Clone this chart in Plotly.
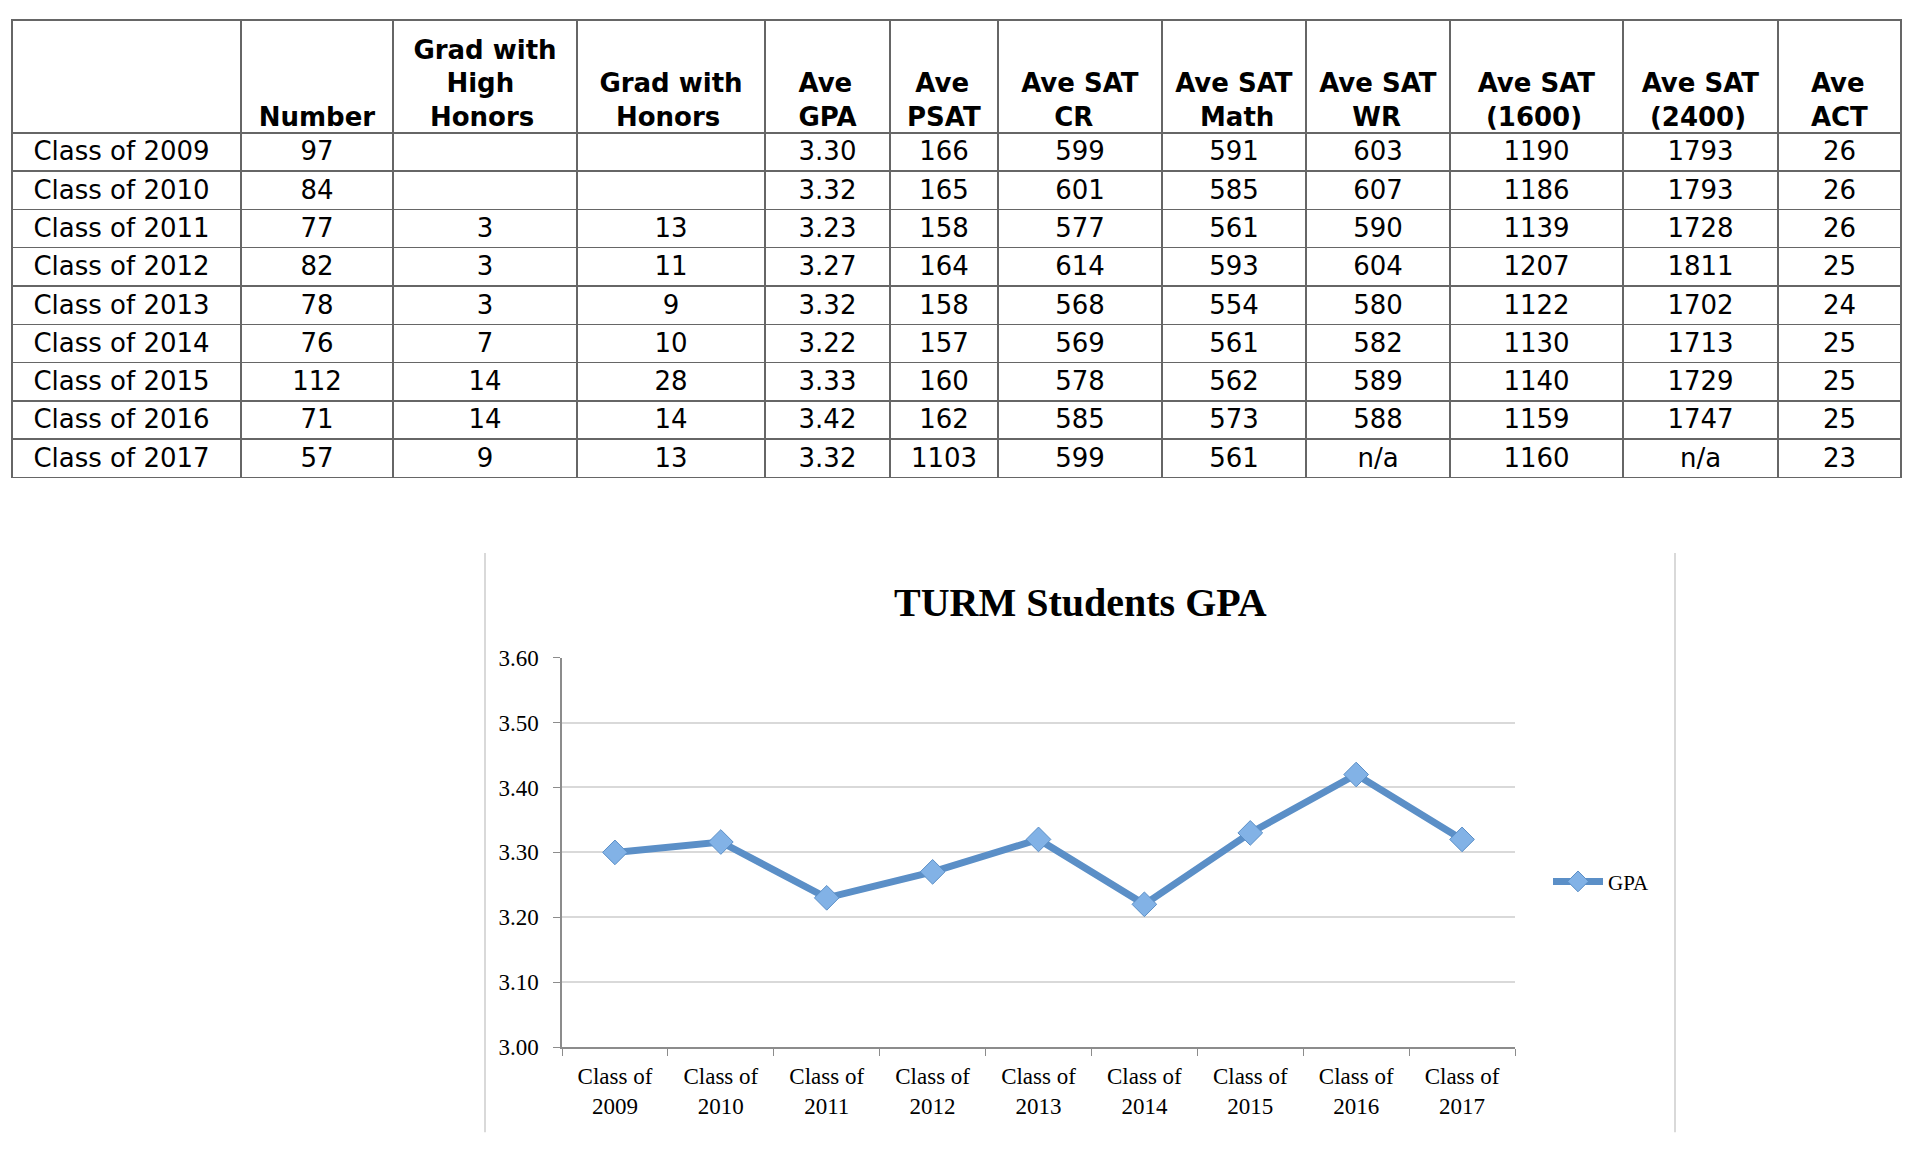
import plotly.graph_objects as go

# table data
classes = ["Class of 2009", "Class of 2010", "Class of 2011", "Class of 2012", "Class of 2013",
           "Class of 2014", "Class of 2015", "Class of 2016", "Class of 2017"]
number = ["97", "84", "77", "82", "78", "76", "112", "71", "57"]
high_honors = ["", "", "3", "3", "3", "7", "14", "14", "9"]
honors = ["", "", "13", "11", "9", "10", "28", "14", "13"]
ave_gpa = ["3.30", "3.32", "3.23", "3.27", "3.32", "3.22", "3.33", "3.42", "3.32"]
ave_psat = ["166", "165", "158", "164", "158", "157", "160", "162", "1103"]
sat_cr = ["599", "601", "577", "614", "568", "569", "578", "585", "599"]
sat_math = ["591", "585", "561", "593", "554", "561", "562", "573", "561"]
sat_wr = ["603", "607", "590", "604", "580", "582", "589", "588", "n/a"]
sat_1600 = ["1190", "1186", "1139", "1207", "1122", "1130", "1140", "1159", "1160"]
sat_2400 = ["1793", "1793", "1728", "1811", "1702", "1713", "1729", "1747", "n/a"]
ave_act = ["26", "26", "26", "25", "24", "25", "25", "25", "23"]

# header lines, one list per column
headers = [[], ["Number"], ["Grad with", "High", "Honors"], ["Grad with", "Honors"],
           ["Ave", "GPA"], ["Ave", "PSAT"], ["Ave SAT", "CR"], ["Ave SAT", "Math"],
           ["Ave SAT", "WR"], ["Ave SAT", "(1600)"], ["Ave SAT", "(2400)"], ["Ave", "ACT"]]

# chart data (as plotted)
chart_labels = ["Class of<br>2009", "Class of<br>2010", "Class of<br>2011", "Class of<br>2012",
                "Class of<br>2013", "Class of<br>2014", "Class of<br>2015", "Class of<br>2016",
                "Class of<br>2017"]
chart_gpa = [3.30, 3.316, 3.23, 3.27, 3.32, 3.22, 3.33, 3.42, 3.32]

W, H = 1916, 1154


def px(x):
    return x / W


def py(y):
    return 1 - y / H


# rough DejaVu Sans Bold advance widths (em), used to centre header lines
BOLD_W = {" ": .348, "A": .774, "C": .734, "G": .821, "H": .837, "M": .995, "N": .837,
          "P": .733, "R": .770, "S": .720, "T": .682, "W": 1.103, "a": .675, "b": .716,
          "d": .716, "e": .678, "g": .716, "h": .712, "i": .343, "m": 1.042, "n": .712,
          "o": .687, "r": .493, "s": .595, "t": .478, "u": .712, "v": .652, "w": .924,
          "(": .457, ")": .457}
NBSP = "\u00a0"


def text_w(s):
    return sum(BOLD_W.get(c, .696) for c in s)


def header_cell(lines, total=3):
    if not lines:
        return ""
    widest = max(text_w(l) for l in lines)
    out = [NBSP] * (total - len(lines))
    for l in lines:
        pad = int(round((widest - text_w(l)) / 2 / BOLD_W[" "]))
        out.append(NBSP * pad + "<b>" + l + "</b>")
    return "<br>".join(out)


header_vals = [header_cell(h) for h in headers]
first_col = [NBSP + "\u2009" + c for c in classes]
columns = [first_col, number, high_honors, honors, ave_gpa, ave_psat, sat_cr, sat_math,
           sat_wr, sat_1600, sat_2400, ave_act]
col_widths = [229, 152, 184, 188, 125, 108, 164, 144, 144, 173, 155, 123]

serif = "Liberation Serif"
sans = "DejaVu Sans"
grid_col = "#666666"
clear = "rgba(0,0,0,0)"
table_x = [px(12), px(1901)]

fig = go.Figure()

# the grid with the body text; header boxes left empty
fig.add_trace(go.Table(
    domain=dict(x=table_x, y=[0.45, py(8)]),
    columnwidth=col_widths,
    header=dict(values=[""] * len(headers), height=113,
                fill_color="white", line=dict(color=grid_col, width=1.5),
                font=dict(family=sans, size=26, color="black")),
    cells=dict(values=columns, height=38.3,
               align=["left"] + ["center"] * 11,
               fill_color="white", line=dict(color=grid_col, width=1.5),
               font=dict(family=sans, size=26, color="black")),
))

# header text, laid over the empty header a little lower so it sits on the bottom
fig.add_trace(go.Table(
    domain=dict(x=table_x, y=[0.45, py(15)]),
    columnwidth=col_widths,
    header=dict(values=header_vals, height=106, align="center",
                fill_color=clear, line=dict(color=clear, width=0),
                font=dict(family=sans, size=26, color="black")),
))

fig.add_trace(go.Scatter(
    x=chart_labels, y=chart_gpa, name="GPA", mode="lines+markers",
    line=dict(color="#5b8fc7", width=7),
    marker=dict(symbol="diamond", size=19, color="#82b2e6",
                line=dict(color="#5b8fc7", width=1)),
))

grey_line = dict(type="line", xref="paper", yref="paper",
                 line=dict(color="#cccccc", width=1.5))

fig.update_layout(
    width=W, height=H,
    margin=dict(l=0, r=0, t=0, b=0),
    paper_bgcolor="white", plot_bgcolor="white",
    showlegend=True,
    legend=dict(x=px(1548), y=py(889), xanchor="left", yanchor="middle",
                itemwidth=50,
                font=dict(family=serif, size=21, color="black"),
                bgcolor=clear),
    xaxis=dict(domain=[px(562), px(1515)], type="category", tickson="boundaries",
               range=[-0.5, 8.5],
               showgrid=False, showline=True, linecolor="#8c8c8c", linewidth=1.5,
               ticks="outside", ticklen=7, tickcolor="#8c8c8c", ticklabelstandoff=8,
               tickfont=dict(family=serif, size=23, color="black")),
    yaxis=dict(domain=[py(1058), py(660)], range=[3.0, 3.6], dtick=0.1, tickformat=".2f",
               showgrid=True, gridcolor="#d9d9d9", gridwidth=1.5,
               showline=True, linecolor="#8c8c8c", linewidth=1.5,
               ticks="outside", ticklen=7, tickcolor="#8c8c8c", ticklabelstandoff=10,
               zeroline=False,
               tickfont=dict(family=serif, size=23, color="black")),
    shapes=[
        dict(grey_line, x0=px(485), x1=px(485), y0=py(553), y1=py(1145)),
        dict(grey_line, x0=px(1675), x1=px(1675), y0=py(553), y1=py(1145)),
    ],
    annotations=[dict(text="<b>TURM Students GPA</b>", xref="paper", yref="paper",
                      x=px(1080), y=py(604), xanchor="center", yanchor="middle",
                      showarrow=False, font=dict(family=serif, size=40, color="black"))],
)

fig.write_html("out.html", config={"displayModeBar": False},
               post_script="document.body.style.margin='0';")
